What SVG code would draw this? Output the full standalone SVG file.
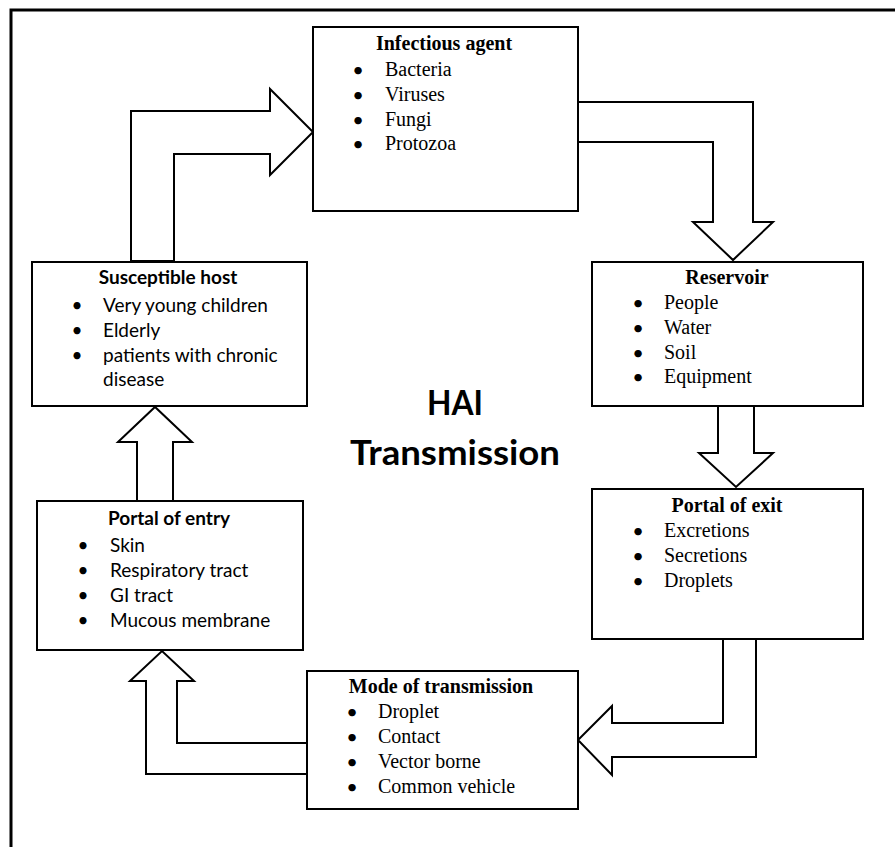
<svg xmlns="http://www.w3.org/2000/svg" width="895" height="847" viewBox="0 0 895 847">
<style>
.box{fill:#fff;stroke:#000;stroke-width:2}
.arr{fill:#fff;stroke:#000;stroke-width:2;stroke-linejoin:miter}
.frame{fill:none;stroke:#000;stroke-width:3}
.tt{font-family:"Liberation Serif","Times New Roman",serif;font-size:20px;font-weight:bold;text-anchor:middle}
.tb{font-family:"Liberation Serif","Times New Roman",serif;font-size:20px}
.ct{font-family:Lato,"Open Sans",sans-serif;font-size:19px;font-weight:bold;text-anchor:middle}
.cb{font-family:Lato,"Open Sans",sans-serif;font-size:19px}
.bul{text-anchor:middle}
.tb .bul{font-family:Lato,"Open Sans",sans-serif;font-size:20px}
.big{font-family:Lato,"Open Sans",sans-serif;font-size:35px;font-weight:bold;text-anchor:middle}
</style>
<rect width="895" height="847" fill="#fff"/>
<path class="frame" d="M11,847 V10 H895"/>
<g id="connectors">
<polygon class="arr" points="131,261 131,111 270,111 270,89 313,132 270,175 270,154 174,154 174,261"/>
<polygon class="arr" points="578,102 753,102 753,222 773,222 733,260 693,222 713,222 713,142 578,142"/>
<polygon class="arr" points="718,406 718,453 699,453 736,487 773,453 754,453 754,406"/>
<polygon class="arr" points="723,639 723,723 612,723 612,706 578,740 612,775 612,757 756,757 756,639"/>
<polygon class="arr" points="307,743 177,743 177,681 194,681 162,651 130,681 146,681 146,774 307,774"/>
<polygon class="arr" points="137,501 137,442 118,442 155,407 192,442 173,442 173,501"/>
</g>
<g id="infectious-agent">
<rect class="box" x="313" y="27" width="265" height="184"/>
<text class="tt" x="444" y="50">Infectious agent</text>
<g class="tb">
<text class="bul" x="358" y="77">•</text><text x="385" y="76">Bacteria</text>
<text class="bul" x="358" y="102">•</text><text x="385" y="101">Viruses</text>
<text class="bul" x="358" y="127">•</text><text x="385" y="126">Fungi</text>
<text class="bul" x="358" y="151">•</text><text x="385" y="150">Protozoa</text>
</g>
</g>
<g id="reservoir">
<rect class="box" x="592" y="262" width="271" height="144"/>
<text class="tt" x="727" y="284">Reservoir</text>
<g class="tb">
<text class="bul" x="638" y="310">•</text><text x="664" y="309">People</text>
<text class="bul" x="638" y="335">•</text><text x="664" y="334">Water</text>
<text class="bul" x="638" y="360">•</text><text x="664" y="359">Soil</text>
<text class="bul" x="638" y="384">•</text><text x="664" y="383">Equipment</text>
</g>
</g>
<g id="portal-of-exit">
<rect class="box" x="592" y="489" width="271" height="150"/>
<text class="tt" x="727" y="512">Portal of exit</text>
<g class="tb">
<text class="bul" x="638" y="538">•</text><text x="664" y="537">Excretions</text>
<text class="bul" x="638" y="563">•</text><text x="664" y="562">Secretions</text>
<text class="bul" x="638" y="588">•</text><text x="664" y="587">Droplets</text>
</g>
</g>
<g id="mode-of-transmission">
<rect class="box" x="307" y="671" width="271" height="138"/>
<text class="tt" x="441" y="693">Mode of transmission</text>
<g class="tb">
<text class="bul" x="352" y="719">•</text><text x="378" y="718">Droplet</text>
<text class="bul" x="352" y="744">•</text><text x="378" y="743">Contact</text>
<text class="bul" x="352" y="769">•</text><text x="378" y="768">Vector borne</text>
<text class="bul" x="352" y="794">•</text><text x="378" y="793">Common vehicle</text>
</g>
</g>
<g id="portal-of-entry">
<rect class="box" x="37" y="501" width="266" height="149"/>
<text class="ct" x="169" y="525">Portal of entry</text>
<g class="cb">
<text class="bul" x="83" y="552">•</text><text x="110" y="552">Skin</text>
<text class="bul" x="83" y="577">•</text><text x="110" y="577">Respiratory tract</text>
<text class="bul" x="83" y="602">•</text><text x="110" y="602">GI tract</text>
<text class="bul" x="83" y="627">•</text><text x="110" y="627">Mucous membrane</text>
</g>
</g>
<g id="susceptible-host">
<rect class="box" x="32" y="262" width="275" height="144"/>
<text class="ct" x="168" y="284">Susceptible host</text>
<g class="cb">
<text class="bul" x="77" y="312">•</text><text x="103" y="312">Very young children</text>
<text class="bul" x="77" y="337">•</text><text x="103" y="337">Elderly</text>
<text class="bul" x="77" y="362">•</text><text x="103" y="362">patients with chronic</text>
<text x="103" y="386">disease</text>
</g>
</g>
<g id="title">
<text class="big" x="455" y="415" textLength="56" lengthAdjust="spacingAndGlyphs">HAI</text>
<text class="big" x="455" y="465" textLength="210" lengthAdjust="spacingAndGlyphs">Transmission</text>
</g>
</svg>
